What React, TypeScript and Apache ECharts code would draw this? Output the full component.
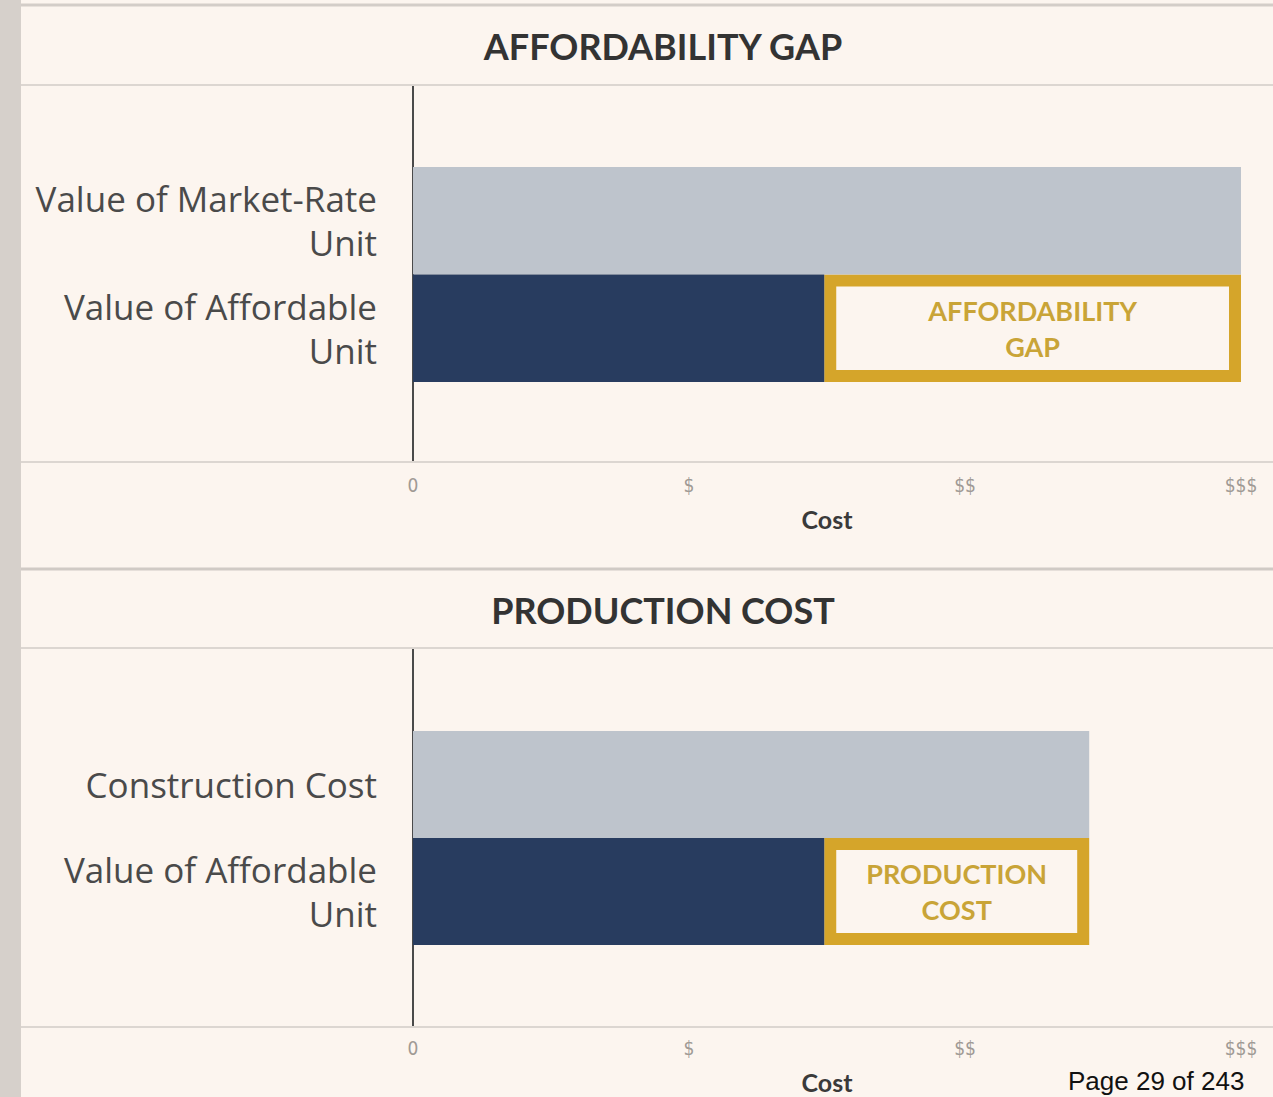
import React, { useEffect, useRef } from "react";
import * as echarts from "echarts";

const tickLabels = ["0", "$", "$$", "$$$"];
const topTitle = "AFFORDABILITY GAP";
const topCategories = ["Value of Market-Rate\nUnit", "Value of Affordable\nUnit"];
const topValues = [3.0, 1.49];
const topGapLabel = "AFFORDABILITY\nGAP";
const bottomTitle = "PRODUCTION COST";
const bottomCategories = ["Construction Cost", "Value of Affordable\nUnit"];
const bottomValues = [2.45, 1.49];
const bottomGapLabel = "PRODUCTION\nCOST";
const axisName = "Cost";
const pageText = "Page 29 of 243";

const BG = "#fcf5ef";
const LIGHT = "#bec4cc";
const DARK = "#283c5f";
const GOLD = "#d5a52a";
const GOLD_TEXT = "#c9a437";
const SEP = "#d6d0cb";
const FONT = "Lato, 'Open Sans', sans-serif";
const LABEL_FONT = "'Open Sans', Lato, sans-serif";

function gapRender(params: any, api: any) {
  const start = api.value(0);
  const end = api.value(1);
  const cat = api.value(2);
  const p0 = api.coord([start, cat]);
  const p1 = api.coord([end, cat]);
  const h = api.size([0, 1])[1];
  const bw = 12;
  const x = p0[0] + bw / 2;
  const y = p0[1] - h / 2 + bw / 2;
  const w = p1[0] - p0[0] - bw;
  const hh = h - bw;
  const label = params.seriesName;
  return {
    type: "group",
    children: [
      {
        type: "rect",
        shape: { x, y, width: w, height: hh },
        style: { fill: BG, stroke: GOLD, lineWidth: bw },
      },
      {
        type: "text",
        x: (p0[0] + p1[0]) / 2,
        y: p0[1],
        style: {
          text: label,
          fill: GOLD_TEXT,
          font: `bold 27px ${FONT}`,
          align: "center",
          verticalAlign: "middle",
          lineHeight: 36,
        },
      },
    ],
  };
}

export default function App() {
  const ref = useRef<HTMLDivElement>(null);
  useEffect(() => {
    document.body.style.margin = "0";
    document.body.style.background = BG;
    const chart = echarts.init(ref.current!, null, { renderer: "svg" });
    const xAxisCommon = (gridIndex: number, margin: number, nameGap: number) => ({
      type: "value",
      gridIndex,
      min: 0,
      max: 3,
      interval: 1,
      splitLine: { show: false },
      axisLine: { show: false },
      axisTick: { show: false },
      axisLabel: {
        margin,
        fontSize: 19,
        color: "#a09a95",
        fontFamily: "'DejaVu Sans Condensed', 'Liberation Sans Narrow', sans-serif",
        formatter: (v: number) => tickLabels[Math.round(v)] ?? "",
      },
      name: axisName,
      nameLocation: "middle",
      nameGap,
      nameTextStyle: { fontSize: 25, fontWeight: "bold", color: "#3a3a3a", fontFamily: FONT },
    });
    const yAxisCommon = (gridIndex: number, data: string[]) => ({
      type: "category",
      gridIndex,
      inverse: true,
      data,
      axisLine: { show: false },
      axisTick: { show: false },
      axisLabel: {
        margin: 36,
        fontSize: 35,
        lineHeight: 44,
        color: "#4a4a4a",
        fontFamily: LABEL_FONT,
        align: "right",
      },
    });
    const sepLine = (y: number, w = 2, c = SEP) => ({
      type: "line",
      shape: { x1: 21, y1: y, x2: 1273, y2: y },
      style: { stroke: c, lineWidth: w },
      silent: true,
    });
    const titleText = (text: string, y: number) => ({
      type: "text",
      x: 663,
      y,
      style: {
        text,
        fill: "#333333",
        font: `bold 36px ${FONT}`,
        align: "center",
        verticalAlign: "middle",
      },
      silent: true,
    });
    chart.setOption({
      animation: false,
      backgroundColor: BG,
      grid: [
        { left: 413, right: 32, top: 167, height: 215 },
        { left: 413, right: 32, top: 731, height: 214 },
      ],
      xAxis: [xAxisCommon(0, 93, 124), xAxisCommon(1, 93, 124)],
      yAxis: [yAxisCommon(0, topCategories), yAxisCommon(1, bottomCategories)],
      series: [
        {
          type: "bar",
          xAxisIndex: 0,
          yAxisIndex: 0,
          barWidth: "100%",
          data: topValues.map((v, i) => ({ value: v, itemStyle: { color: i === 0 ? LIGHT : DARK } })),
        },
        {
          type: "custom",
          name: topGapLabel,
          xAxisIndex: 0,
          yAxisIndex: 0,
          renderItem: gapRender,
          encode: { x: [0, 1], y: 2 },
          data: [[topValues[1], topValues[0], 1]],
        },
        {
          type: "bar",
          xAxisIndex: 1,
          yAxisIndex: 1,
          barWidth: "100%",
          data: bottomValues.map((v, i) => ({ value: v, itemStyle: { color: i === 0 ? LIGHT : DARK } })),
        },
        {
          type: "custom",
          name: bottomGapLabel,
          xAxisIndex: 1,
          yAxisIndex: 1,
          renderItem: gapRender,
          encode: { x: [0, 1], y: 2 },
          data: [[bottomValues[1], bottomValues[0], 1]],
        },
      ],
      graphic: [
        {
          type: "rect",
          shape: { x: 0, y: 0, width: 21, height: 1097 },
          style: { fill: "#d6d0cb" },
          silent: true,
        },
        sepLine(5, 3, "#d3cdc8"),
        sepLine(85, 2, "#dcd6d1"),
        sepLine(462, 2, "#dcd6d1"),
        sepLine(569, 3, "#d0cac5"),
        sepLine(648, 2, "#dcd6d1"),
        sepLine(1027, 2, "#dcd6d1"),
        titleText(topTitle, 46),
        titleText(bottomTitle, 610),
        {
          type: "line",
          shape: { x1: 413, y1: 86, x2: 413, y2: 461 },
          style: { stroke: "#4a4a4a", lineWidth: 2 },
          silent: true,
        },
        {
          type: "line",
          shape: { x1: 413, y1: 649, x2: 413, y2: 1026 },
          style: { stroke: "#4a4a4a", lineWidth: 2 },
          silent: true,
        },
        {
          type: "text",
          x: 1068,
          y: 1068,
          style: {
            text: pageText,
            fill: "#111111",
            font: "26px 'Liberation Sans', Arial, sans-serif",
          },
        },
      ],
    });
    return () => chart.dispose();
  }, []);
  return <div ref={ref} style={{ width: 1273, height: 1097 }} />;
}
